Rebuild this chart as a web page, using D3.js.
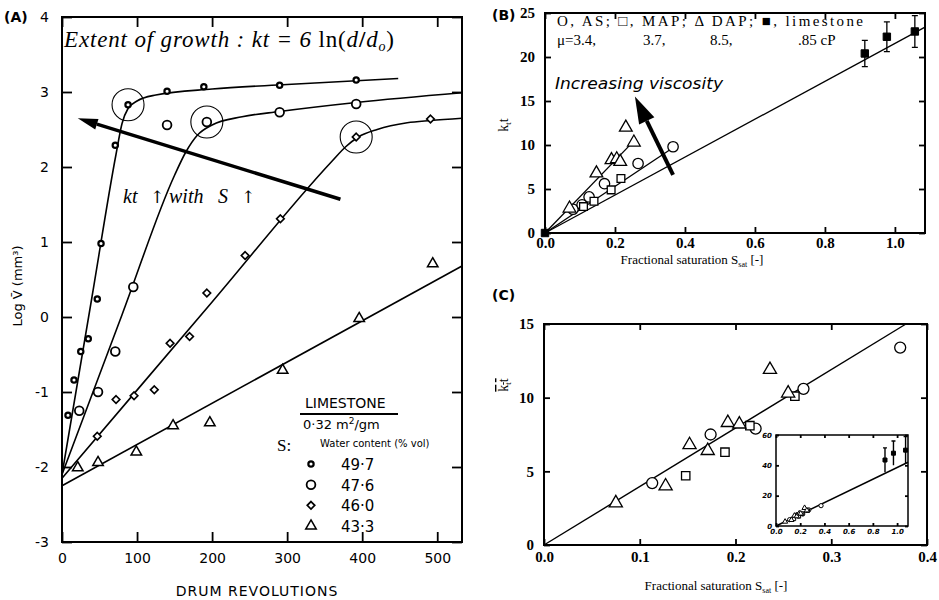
<!DOCTYPE html>
<html>
<head>
<meta charset="utf-8">
<script src="https://cdn.jsdelivr.net/npm/d3@7"></script>
<style>
body { margin: 0; background: #fff; }
svg { font-family: "DejaVu Sans", sans-serif; }
.frame { fill: none; stroke: #000; stroke-width: 2; }
.fit { fill: none; stroke: #000; stroke-width: 1.6; }
.mark { fill: #fff; stroke: #000; }
.tick line { stroke: #000; stroke-width: 1.8; }
.serif { font-family: "Liberation Serif", serif; }
</style>
</head>
<body>
<script>
//panel A: drum revolutions vs log of mean granule volume
var drumTicks = [0, 100, 200, 300, 400, 500];
var logVTicks = [-3, -2, -1, 0, 1, 2, 3, 4];

var revs497 = [8, 16, 25, 35, 47, 52, 71, 88, 140, 189, 290, 392];
var logV497 = [-1.31, -0.84, -0.46, -0.29, 0.24, 0.98, 2.29, 2.83, 3.01, 3.07, 3.09, 3.16];
var revs476 = [23, 48, 71, 95, 140, 193, 290, 392];
var logV476 = [-1.25, -1.0, -0.46, 0.4, 2.56, 2.6, 2.73, 2.84];
var revs460 = [47, 72, 96, 123, 144, 170, 193, 244, 291, 392, 491];
var logV460 = [-1.59, -1.1, -1.05, -0.97, -0.35, -0.26, 0.32, 0.82, 1.31, 2.4, 2.64];
var revs433 = [21, 48, 99, 148, 197, 294, 396, 494];
var logV433 = [-2.01, -1.94, -1.8, -1.45, -1.41, -0.71, -0.02, 0.71];

//hand drawn fit curves (revolutions, log V): straight rise, then a knee
var fit497 = [[0, -2.1], [40, 0.27], [72, 2.17], [80, 2.58], [88, 2.78], [100, 2.88], [125, 2.96], [200, 3.04], [300, 3.1], [448, 3.18]];
var fit476 = [[0, -2.1], [80, 0.03], [150, 1.89], [165, 2.2], [180, 2.42], [200, 2.56], [240, 2.67], [290, 2.74], [392, 2.86], [533, 2.99]];
var fit460 = [[0, -2.15], [200, 0.2], [360, 2.08], [378, 2.27], [395, 2.4], [420, 2.5], [460, 2.59], [491, 2.62], [533, 2.65]];
var fit433 = [[0, -2.25], [533, 0.68]];

//end of growth circled points and the kt arrow
var growthEnds = [[88, 2.83], [193, 2.6], [392, 2.4]];
var arrowA = [[371, 1.57], [21, 2.65]];

var waterContent = ["49.7", "47.6", "46.0", "43.3"];

//panel B: kt vs fractional saturation
var satTicksB = [0, 0.2, 0.4, 0.6, 0.8, 1.0];
var ktTicksB = [0, 5, 10, 15, 20, 25];
var bSatAS = [0.08, 0.106, 0.126, 0.17, 0.266, 0.366];
var bKtAS = [2.7, 3.2, 4.1, 5.6, 7.9, 9.8];
var bSatMAP = [0.11, 0.14, 0.189, 0.217];
var bKtMAP = [3.0, 3.6, 4.9, 6.2];
var bSatDAP = [0.07, 0.147, 0.19, 0.205, 0.215, 0.231, 0.254];
var bKtDAP = [2.8, 6.8, 8.3, 8.4, 8.1, 12.0, 10.3];
var bSatLime = [0, 0.914, 0.977, 1.057];
var bKtLime = [0, 20.4, 22.3, 22.9];
var bErrLime = [0, 1.5, 1.7, 1.8];
var fitDAP = [[0, 0], [0.255, 10.5]];
var fitAS = [[0, 0], [0.37, 9.8]];
var fitLime = [[0, 0], [1.086, 23.4]];
var arrowB = [[0.366, 6.6], [0.257, 15.5]];

//panel C: viscosity-normalised kt vs fractional saturation
var satTicksC = [0, 0.1, 0.2, 0.3, 0.4];
var ktTicksC = [0, 5, 10, 15];
var cSatAS = [0.113, 0.174, 0.221, 0.271, 0.372];
var cKtAS = [4.2, 7.5, 7.9, 10.6, 13.4];
var cSatMAP = [0.148, 0.189, 0.215, 0.262];
var cKtMAP = [4.7, 6.3, 8.1, 10.1];
var cSatDAP = [0.075, 0.127, 0.152, 0.171, 0.192, 0.204, 0.236, 0.255];
var cKtDAP = [2.85, 4.0, 6.8, 6.4, 8.3, 8.2, 11.9, 10.3];
var fitC = [[0, 0], [0.378, 15]];

//inset of panel C
var satTicksIn = [0, 0.2, 0.4, 0.6, 0.8, 1.0];
var ktTicksIn = [0, 20, 40, 60];
var inSatLime = [0.9, 0.97, 1.07];
var inKtLime = [43.5, 48, 50];
var inErrLime = [8, 8, 9];
var fitInset = [[0, 0], [1.09, 42]];

window.onload = drawFigure;

function drawFigure(){

    var svg = d3.select("body")
        .append("svg")
        .attr("width", 939)
        .attr("height", 600);

    drawPanelA(svg);
    drawPanelB(svg);
    drawPanelC(svg);
}

//scatter marks of one series
function drawMarks(g, xs, ys, x, y, type, size, sw, fill){
    g.selectAll(null)
        .data(d3.zip(xs, ys))
        .enter()
        .append("path")
        .attr("class", "mark")
        .attr("transform", function(d){ return "translate(" + x(d[0]) + "," + y(d[1]) + ")"; })
        .attr("d", d3.symbol().type(type).size(size))
        .style("stroke-width", sw)
        .style("fill", fill || "#fff");
}

//thick arrow with a solid head, in pixels
function drawArrow(g, x1, y1, x2, y2, w, headLen, headW){
    var a = Math.atan2(y2 - y1, x2 - x1),
        bx = x2 - headLen * Math.cos(a),
        by = y2 - headLen * Math.sin(a),
        nx = -Math.sin(a) * headW / 2,
        ny = Math.cos(a) * headW / 2;
    g.append("line")
        .attr("x1", x1).attr("y1", y1)
        .attr("x2", bx).attr("y2", by)
        .attr("stroke", "#000")
        .attr("stroke-width", w);
    g.append("polygon")
        .attr("points", [[x2, y2], [bx + nx, by + ny], [bx - nx, by - ny]].join(" "))
        .attr("fill", "#000");
}

//framed box with inward ticks on all four sides
function drawFrame(g, x, y, xt, yt, xfmt, yfmt, tick, fontCss){
    var x0 = x.range()[0], x1 = x.range()[1],
        y0 = y.range()[0], y1 = y.range()[1];

    g.append("rect")
        .attr("class", "frame")
        .attr("x", x0).attr("y", y1)
        .attr("width", x1 - x0).attr("height", y0 - y1);

    var bottom = g.append("g")
        .attr("transform", "translate(0," + y0 + ")")
        .call(d3.axisBottom(x).tickValues(xt).tickSize(-tick.len).tickPadding(tick.padX).tickFormat(xfmt));
    var left = g.append("g")
        .attr("transform", "translate(" + x0 + ",0)")
        .call(d3.axisLeft(y).tickValues(yt).tickSize(-tick.len).tickPadding(tick.padY).tickFormat(yfmt));
    g.append("g")
        .attr("transform", "translate(0," + y1 + ")")
        .call(d3.axisTop(x).tickValues(xt).tickSize(-tick.len).tickFormat(""));
    g.append("g")
        .attr("transform", "translate(" + x1 + ",0)")
        .call(d3.axisRight(y).tickValues(yt).tickSize(-tick.len).tickFormat(""));

    g.selectAll(".domain").remove();
    bottom.selectAll("text").attr("style", fontCss);
    left.selectAll("text").attr("style", fontCss);
}

function drawPanelA(svg){

    var g = svg.append("g");

    var x = d3.scaleLinear().domain([0, 533]).range([62, 462]),
        y = d3.scaleLinear().domain([-3, 4]).range([542, 17]);

    drawFrame(g, x, y, drumTicks, logVTicks, d3.format("d"), function(d){ return String(d); },
        {len: 10, padX: 11, padY: 13}, "font-family:'DejaVu Sans';font-size:14px;fill:#000");

    var line = d3.line()
        .x(function(d){ return x(d[0]); })
        .y(function(d){ return y(d[1]); })
        .curve(d3.curveMonotoneX);

    [fit497, fit476, fit460, fit433].forEach(function(f){
        g.append("path").attr("class", "fit").attr("d", line(f));
    });

    drawMarks(g, revs497, logV497, x, y, d3.symbolCircle, 22, 2.2);
    drawMarks(g, revs476, logV476, x, y, d3.symbolCircle, 60, 1.8);
    drawMarks(g, revs460, logV460, x, y, d3.symbolDiamond2, 36, 1.7);
    drawMarks(g, revs433, logV433, x, y, d3.symbolTriangle, 48, 1.5);

    //circles at the end of the growth stage
    g.selectAll(".ring")
        .data(growthEnds)
        .enter()
        .append("circle")
        .attr("class", "ring")
        .attr("cx", function(d){ return x(d[0]); })
        .attr("cy", function(d){ return y(d[1]); })
        .attr("r", 16)
        .attr("fill", "none")
        .attr("stroke", "#000")
        .attr("stroke-width", 1.1);

    drawArrow(g, x(arrowA[0][0]), y(arrowA[0][1]), x(arrowA[1][0]), y(arrowA[1][1]), 3.5, 20, 11);

    //title equation
    var title = g.append("text")
        .attr("class", "serif")
        .attr("x", 64).attr("y", 47)
        .attr("textLength", 330)
        .attr("lengthAdjust", "spacing")
        .style("font-size", "23px")
        .style("font-style", "italic");
    title.append("tspan").text("Extent of growth : kt = 6 ");
    title.append("tspan").style("font-style", "normal").text("ln(");
    title.append("tspan").text("d");
    title.append("tspan").style("font-style", "normal").style("font-weight", "bold").text("/");
    title.append("tspan").text("d");
    title.append("tspan").attr("dy", 4).style("font-size", "14px").text("o");
    title.append("tspan").attr("dy", -4).style("font-style", "normal").text(")");

    //words of the growth note, spaced as in the original
    var note = g.append("text")
        .attr("class", "serif")
        .attr("y", 203)
        .style("font-size", "20px")
        .style("font-style", "italic")
        .style("fill", "#000");
    [["kt", 123, 0], ["\u2191", 150, 1], ["with", 169, 0], ["S", 218, 0], ["\u2191", 241, 1]].forEach(function(w){
        var t = note.append("tspan").attr("x", w[1]).text(w[0]);
        if (w[2]) t.style("font-family", "'DejaVu Serif'").style("font-style", "normal").style("font-size", "17px");
    });

    //axis titles
    g.append("text")
        .attr("x", 257).attr("y", 596)
        .attr("text-anchor", "middle")
        .style("font-size", "14px")
        .style("letter-spacing", "1px")
        .text("DRUM REVOLUTIONS");

    g.append("text")
        .attr("transform", "translate(22,286) rotate(-90)")
        .attr("text-anchor", "middle")
        .style("font-size", "13px")
        .text("Log V\u0304 (mm\u00b3)");

    g.append("text")
        .attr("x", 4).attr("y", 22)
        .style("font-size", "14px")
        .style("font-weight", "bold")
        .text("(A)");

    //legend
    g.append("text")
        .attr("x", 305).attr("y", 408)
        .style("font-size", "14px")
        .text("LIMESTONE");
    g.append("line")
        .attr("x1", 300).attr("x2", 398)
        .attr("y1", 414).attr("y2", 414)
        .attr("stroke", "#000").attr("stroke-width", 1.8);
    g.append("text")
        .attr("x", 303).attr("y", 429)
        .style("font-size", "13px")
        .html("0\u00b732 m<tspan dy='-5' font-size='9px'>2</tspan><tspan dy='5'>/gm</tspan>");
    g.append("text")
        .attr("class", "serif")
        .attr("x", 277).attr("y", 451)
        .style("font-size", "17px")
        .text("S:");
    g.append("text")
        .attr("x", 320).attr("y", 447)
        .style("font-size", "10px")
        .text("Water content (% vol)");

    var kinds = [[d3.symbolCircle, 22, 2.2], [d3.symbolCircle, 60, 1.8], [d3.symbolDiamond2, 36, 1.7], [d3.symbolTriangle, 48, 1.5]],
        rowY = d3.scalePoint().domain(waterContent).range([464, 526]);

    waterContent.forEach(function(w, i){
        g.append("path")
            .attr("class", "mark")
            .attr("transform", "translate(311," + rowY(w) + ")")
            .attr("d", d3.symbol().type(kinds[i][0]).size(kinds[i][1]))
            .style("stroke-width", kinds[i][2]);
        g.append("text")
            .attr("x", 341).attr("y", rowY(w) + 6)
            .style("font-size", "15px")
            .text(w.replace(".", "\u00b7"));
    });
}

function drawPanelB(svg){

    var g = svg.append("g");

    var x = d3.scaleLinear().domain([0, 1.086]).range([545, 925]),
        y = d3.scaleLinear().domain([0, 25]).range([233, 13]);

    drawFrame(g, x, y, satTicksB, ktTicksB, d3.format(".1f"), d3.format("d"),
        {len: 6, padX: 4, padY: 10}, "font-family:'Liberation Serif';font-weight:bold;font-size:15px;fill:#000");

    var line = d3.line()
        .x(function(d){ return x(d[0]); })
        .y(function(d){ return y(d[1]); });

    [fitDAP, fitAS, fitLime].forEach(function(f){
        g.append("path").attr("class", "fit").style("stroke-width", 1.3).attr("d", line(f));
    });

    drawMarks(g, bSatAS, bKtAS, x, y, d3.symbolCircle, 85, 1.3);
    drawMarks(g, bSatMAP, bKtMAP, x, y, d3.symbolSquare, 60, 1.3);
    drawMarks(g, bSatDAP, bKtDAP, x, y, d3.symbolTriangle, 70, 1.3);

    //limestone with error bars
    d3.zip(bSatLime, bKtLime, bErrLime).forEach(function(d){
        if (d[2] > 0) {
            g.append("path")
                .attr("d", "M" + x(d[0]) + "," + y(d[1] - d[2]) + "V" + y(d[1] + d[2]) +
                    "M" + (x(d[0]) - 3) + "," + y(d[1] + d[2]) + "h6" +
                    "M" + (x(d[0]) - 3) + "," + y(d[1] - d[2]) + "h6")
                .attr("stroke", "#000").attr("stroke-width", 1.3);
        }
    });
    drawMarks(g, bSatLime, bKtLime, x, y, d3.symbolSquare, 55, 1, "#000");

    drawArrow(g, x(arrowB[0][0]), y(arrowB[0][1]), x(arrowB[1][0]), y(arrowB[1][1]), 4, 27, 17);

    g.append("text")
        .attr("x", 555).attr("y", 89)
        .attr("textLength", 168)
        .attr("lengthAdjust", "spacingAndGlyphs")
        .style("font-size", "16px")
        .style("font-style", "italic")
        .text("Increasing viscosity");

    //legend text
    g.append("text")
        .attr("class", "serif")
        .attr("x", 557).attr("y", 26)
        .attr("textLength", 306)
        .attr("lengthAdjust", "spacing")
        .style("font-size", "15px")
        .text("O, AS; \u25a1, MAP; \u0394 DAP; \u25a0, limestone");
    var mu = [["\u03bc=3.4,", 557], ["3.7,", 643], ["8.5,", 710], [".85 cP", 798]];
    mu.forEach(function(m){
        g.append("text")
            .attr("class", "serif")
            .attr("x", m[1]).attr("y", 45)
            .style("font-size", "15px")
            .text(m[0]);
    });

    g.append("text")
        .attr("class", "serif")
        .attr("x", 692).attr("y", 264)
        .attr("text-anchor", "middle")
        .style("font-size", "13px")
        .html("Fractional saturation S<tspan dy='3' font-size='8px'>sat</tspan><tspan dy='-3'> [-]</tspan>");

    g.append("text")
        .attr("class", "serif")
        .attr("transform", "translate(508,125) rotate(-90)")
        .attr("text-anchor", "middle")
        .style("font-size", "14px")
        .html("k<tspan dy='3' font-size='9px'>t</tspan><tspan dy='-3'>t</tspan>");

    g.append("text")
        .attr("x", 492).attr("y", 20)
        .style("font-size", "14px")
        .style("font-weight", "bold")
        .text("(B)");
}

function drawPanelC(svg){

    var g = svg.append("g");

    var x = d3.scaleLinear().domain([0, 0.4]).range([544, 927]),
        y = d3.scaleLinear().domain([0, 15]).range([545, 324]);

    drawFrame(g, x, y, satTicksC, ktTicksC, d3.format(".1f"), d3.format("d"),
        {len: 6, padX: 6, padY: 10}, "font-family:'Liberation Serif';font-weight:bold;font-size:15px;fill:#000");

    var line = d3.line()
        .x(function(d){ return x(d[0]); })
        .y(function(d){ return y(d[1]); });

    g.append("path").attr("class", "fit").style("stroke-width", 1.4).attr("d", line(fitC));

    drawMarks(g, cSatAS, cKtAS, x, y, d3.symbolCircle, 95, 1.3);
    drawMarks(g, cSatMAP, cKtMAP, x, y, d3.symbolSquare, 70, 1.3);
    drawMarks(g, cSatDAP, cKtDAP, x, y, d3.symbolTriangle, 75, 1.3);

    g.append("text")
        .attr("class", "serif")
        .attr("x", 716).attr("y", 590)
        .attr("text-anchor", "middle")
        .style("font-size", "13px")
        .html("Fractional saturation S<tspan dy='3' font-size='8px'>sat</tspan><tspan dy='-3'> [-]</tspan>");

    g.append("text")
        .attr("class", "serif")
        .attr("transform", "translate(508,385) rotate(-90)")
        .attr("text-anchor", "middle")
        .style("font-size", "14px")
        .style("text-decoration", "overline")
        .html("k<tspan dy='3' font-size='9px'>t</tspan><tspan dy='-3'>t</tspan>");

    g.append("text")
        .attr("x", 492).attr("y", 300)
        .style("font-size", "14px")
        .style("font-weight", "bold")
        .text("(C)");

    //inset with the limestone points
    var xi = d3.scaleLinear().domain([0, 1.09]).range([776, 908]),
        yi = d3.scaleLinear().domain([0, 60]).range([526, 435]);

    var inset = g.append("g");
    inset.append("rect")
        .attr("x", 776).attr("y", 435)
        .attr("width", 132).attr("height", 91)
        .attr("fill", "#fff");
    drawFrame(inset, xi, yi, satTicksIn, ktTicksIn, d3.format(".1f"), d3.format("d"),
        {len: 3, padX: 3, padY: 4}, "font-family:'DejaVu Sans';font-weight:bold;font-style:italic;font-size:7px;fill:#000");
    inset.selectAll(".frame").style("stroke-width", 1.5);

    var lineIn = d3.line()
        .x(function(d){ return xi(d[0]); })
        .y(function(d){ return yi(d[1]); });
    inset.append("path").attr("class", "fit").style("stroke-width", 1.5).attr("d", lineIn(fitInset));

    drawMarks(inset, cSatAS, cKtAS, xi, yi, d3.symbolCircle, 14, 1);
    drawMarks(inset, cSatMAP, cKtMAP, xi, yi, d3.symbolSquare, 12, 1);
    drawMarks(inset, cSatDAP, cKtDAP, xi, yi, d3.symbolTriangle, 12, 1);

    d3.zip(inSatLime, inKtLime, inErrLime).forEach(function(d){
        inset.append("path")
            .attr("d", "M" + xi(d[0]) + "," + yi(d[1] - d[2]) + "V" + yi(d[1] + d[2]) +
                "M" + (xi(d[0]) - 2) + "," + yi(d[1] + d[2]) + "h4")
            .attr("stroke", "#000").attr("stroke-width", 1.4);
    });
    drawMarks(inset, inSatLime, inKtLime, xi, yi, d3.symbolSquare, 16, 1, "#000");
}
</script>
</body>
</html>
